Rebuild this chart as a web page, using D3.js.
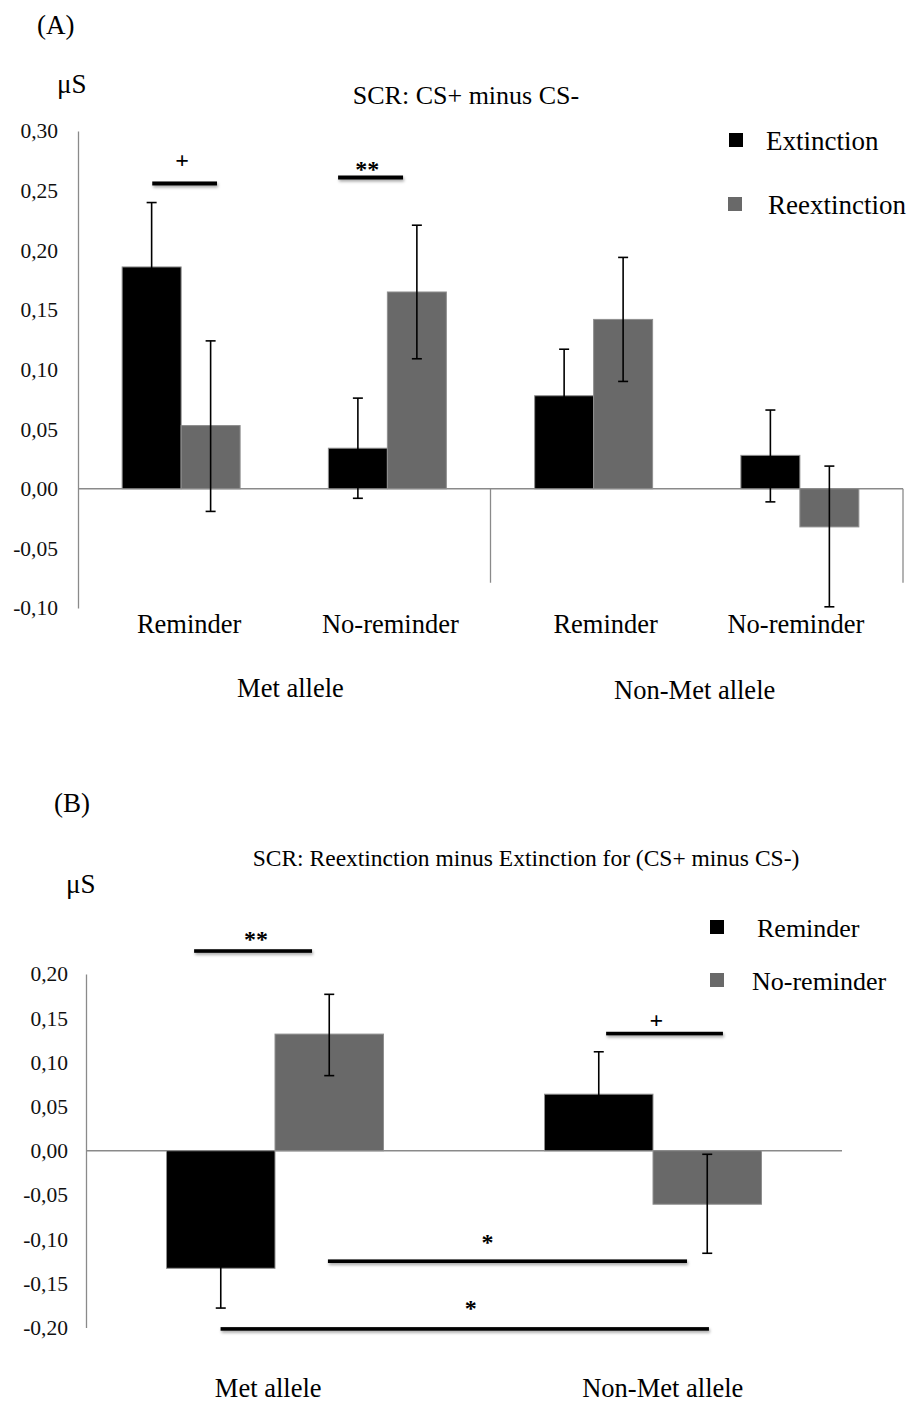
<!DOCTYPE html>
<html>
<head>
<meta charset="utf-8">
<script src="https://cdn.jsdelivr.net/npm/d3@7"></script>
<style>
  html, body { margin: 0; padding: 0; background: #fff; }
  svg { display: block; font-family: "Liberation Serif", "Times New Roman", serif; }
</style>
</head>
<body>
<div class="container"></div>
<script>
const WIDTH = 909
const HEIGHT = 1405

// ---- Panel A data ----
const conditionsA = ['Met Reminder', 'Met No-reminder', 'Non-Met Reminder', 'Non-Met No-reminder']
const conditionLabelsA = ['Reminder', 'No-reminder', 'Reminder', 'No-reminder']
const alleleLabelsA = ['Met allele', 'Non-Met allele']
const seriesA = ['Extinction', 'Reextinction']
const extinctionA = [0.186, 0.034, 0.078, 0.028]
const extinctionHighA = [0.240, 0.076, 0.117, 0.066]
const extinctionLowA = [0.132, -0.008, 0.039, -0.011]
const reextinctionA = [0.053, 0.165, 0.142, -0.032]
const reextinctionHighA = [0.124, 0.221, 0.194, 0.019]
const reextinctionLowA = [-0.019, 0.109, 0.090, -0.099]
const ticksA = [-0.10, -0.05, 0.00, 0.05, 0.10, 0.15, 0.20, 0.25, 0.30]

// ---- Panel B data ----
const conditionsB = ['Met allele', 'Non-Met allele']
const seriesB = ['Reminder', 'No-reminder']
const reminderB = [-0.133, 0.064]
const reminderHighB = [-0.088, 0.112]
const reminderLowB = [-0.178, 0.016]
const noReminderB = [0.132, -0.0605]
const noReminderHighB = [0.177, -0.004]
const noReminderLowB = [0.085, -0.116]
const ticksB = [-0.20, -0.15, -0.10, -0.05, 0.00, 0.05, 0.10, 0.15, 0.20]

const BLACK = '#000000'
const GREY = '#696969'
const AXIS = '#8a8a8a'

const fmt = d => d3.format('.2f')(d).replace('.', ',').replace('−', '-')

const svg = d3.select('.container').append('svg')
    .attr('width', WIDTH)
    .attr('height', HEIGHT)
    .attr('viewBox', `0 0 ${WIDTH} ${HEIGHT}`)

// soft shadow under the significance bars
const defs = svg.append('defs')
defs.append('filter')
    .attr('id', 'shadow')
    .attr('x', '-10%').attr('y', '-300%').attr('width', '120%').attr('height', '700%')
    .append('feDropShadow')
    .attr('dx', 1).attr('dy', 2).attr('stdDeviation', 1.5)
    .attr('flood-color', '#000').attr('flood-opacity', 0.35)

function drawPanel(cfg) {
    const g = svg.append('g')

    const y = d3.scaleLinear().domain(cfg.yDomain).range(cfg.yRange)
    const x = d3.scaleBand()
        .domain(cfg.conditions)
        .range([cfg.left, cfg.right])
        .paddingInner(cfg.paddingInner)
        .paddingOuter(cfg.paddingInner / 2)
    const xs = d3.scaleBand().domain(cfg.series).range([0, x.bandwidth()])
    const xi = d3.scaleLinear().domain([0, cfg.conditions.length]).range([cfg.left, cfg.right])

    // y axis
    const yAxis = g.append('g')
        .attr('transform', `translate(${cfg.left},0)`)
        .call(d3.axisLeft(y).tickValues(cfg.ticks).tickFormat(fmt).tickSize(0).tickPadding(cfg.tickPad))
    yAxis.select('.domain').attr('stroke', AXIS).attr('stroke-width', 1.3)
    yAxis.selectAll('text')
        .attr('font-family', '"Liberation Serif", serif')
        .attr('font-size', 21.5)
        .attr('fill', '#111')

    // zero line
    g.append('line')
        .attr('x1', cfg.left).attr('x2', cfg.right)
        .attr('y1', y(0)).attr('y2', y(0))
        .attr('stroke', AXIS).attr('stroke-width', 1.3)

    // separators below the zero line
    g.selectAll('line.sep')
        .data(cfg.separators)
        .join('line')
        .attr('class', 'sep')
        .attr('x1', d => xi(d)).attr('x2', d => xi(d))
        .attr('y1', y(0)).attr('y2', y(0) + cfg.sepLength)
        .attr('stroke', AXIS).attr('stroke-width', 1.3)

    // bars
    const rows = cfg.conditions.map((c, i) => cfg.series.map((s, j) => ({
        cond: c, series: s, j,
        value: cfg.values[j][i], hi: cfg.highs[j][i], lo: cfg.lows[j][i]
    }))).flat()

    g.append('g')
        .selectAll('rect')
        .data(rows)
        .join('rect')
        .attr('x', d => x(d.cond) + xs(d.series))
        .attr('width', xs.bandwidth())
        .attr('y', d => Math.min(y(d.value), y(0)))
        .attr('height', d => Math.abs(y(d.value) - y(0)))
        .attr('fill', d => cfg.colors[d.j])
        .attr('stroke', '#8f8f8f')
        .attr('stroke-width', 1)

    // error bars
    const err = g.append('g')
        .attr('stroke', '#000')
        .attr('stroke-width', 1.6)
        .selectAll('g')
        .data(rows)
        .join('g')
        .attr('transform', d => `translate(${x(d.cond) + xs(d.series) + xs.bandwidth() / 2},0)`)
    err.append('line')
        .attr('y1', d => y(d.hi)).attr('y2', d => y(d.lo))
    err.append('line')
        .attr('x1', -cfg.cap).attr('x2', cfg.cap)
        .attr('y1', d => y(d.hi)).attr('y2', d => y(d.hi))
    err.append('line')
        .attr('x1', -cfg.cap).attr('x2', cfg.cap)
        .attr('y1', d => y(d.lo)).attr('y2', d => y(d.lo))

    // significance bars
    const sig = g.append('g')
        .selectAll('g')
        .data(cfg.sig)
        .join('g')
    sig.append('rect')
        .attr('x', d => xi(d.from))
        .attr('width', d => xi(d.to) - xi(d.from))
        .attr('y', d => y(d.y) - cfg.sigWidth / 2)
        .attr('height', cfg.sigWidth)
        .attr('fill', '#000')
        .attr('filter', 'url(#shadow)')
    sig.append('text')
        .attr('x', d => xi(d.labelAt))
        .attr('y', d => y(d.y) - d.dy)
        .attr('text-anchor', 'middle')
        .attr('font-size', 24)
        .attr('font-weight', 'bold')
        .text(d => d.label)

    // condition labels
    if (cfg.conditionLabels) {
        g.append('g')
            .selectAll('text')
            .data(cfg.conditions)
            .join('text')
            .attr('x', (d, i) => x(d) + x.bandwidth() / 2 + cfg.condShift[i])
            .attr('y', cfg.condY)
            .attr('text-anchor', 'middle')
            .attr('font-size', 26.5)
            .text((d, i) => cfg.conditionLabels[i])
    }

    // group (allele) labels
    g.append('g')
        .selectAll('text')
        .data(cfg.groupLabels)
        .join('text')
        .attr('x', (d, i) => xi(cfg.groupAt[i]))
        .attr('y', (d, i) => cfg.groupY[i])
        .attr('text-anchor', 'middle')
        .attr('font-size', 26.5)
        .text(d => d)

    // titles and unit
    g.append('text')
        .attr('x', cfg.tag[0]).attr('y', cfg.tag[1])
        .attr('font-size', 27)
        .text(cfg.tagText)
    g.append('text')
        .attr('x', cfg.unit[0]).attr('y', cfg.unit[1])
        .attr('font-size', 27)
        .text('μS')
    g.append('text')
        .attr('x', cfg.title[0]).attr('y', cfg.title[1])
        .attr('text-anchor', 'middle')
        .attr('font-size', cfg.titleSize)
        .text(cfg.titleText)

    // legend
    const leg = g.append('g')
        .selectAll('g')
        .data(cfg.series)
        .join('g')
        .attr('transform', (d, i) => `translate(${cfg.legend[i][0]},${cfg.legend[i][1]})`)
    leg.append('rect')
        .attr('width', 14).attr('height', 14)
        .attr('fill', (d, i) => cfg.colors[i])
    leg.append('text')
        .attr('x', (d, i) => cfg.legendText[i])
        .attr('y', 17)
        .attr('font-size', cfg.legendSize)
        .text(d => d)
}

drawPanel({
    conditions: conditionsA,
    conditionLabels: conditionLabelsA,
    series: seriesA,
    values: [extinctionA, reextinctionA],
    highs: [extinctionHighA, reextinctionHighA],
    lows: [extinctionLowA, reextinctionLowA],
    colors: [BLACK, GREY],
    ticks: ticksA,
    yDomain: [-0.10, 0.30],
    yRange: [608, 131],
    left: 78,
    right: 903,
    paddingInner: 0.428,
    tickPad: 20,
    cap: 5,
    separators: [2, 4],
    sepLength: 94,
    sigWidth: 4,
    sig: [
        { label: '+', y: 0.256, from: 0.36, to: 0.674, labelAt: 0.505, dy: 15 },
        { label: '**', y: 0.261, from: 1.261, to: 1.576, labelAt: 1.403, dy: 1 }
    ],
    condY: 633,
    condShift: [8, 3, 12, -4],
    groupLabels: alleleLabelsA,
    groupAt: [1.03, 2.99],
    groupY: [697, 699],
    tag: [37, 34], tagText: '(A)',
    unit: [57, 93],
    title: [466, 104], titleText: 'SCR: CS+ minus CS-', titleSize: 26,
    legend: [[729, 133], [728, 197]],
    legendText: [37, 40],
    legendSize: 27
})

drawPanel({
    conditions: conditionsB,
    conditionLabels: null,
    series: seriesB,
    values: [reminderB, noReminderB],
    highs: [reminderHighB, noReminderHighB],
    lows: [reminderLowB, noReminderLowB],
    colors: [BLACK, GREY],
    ticks: ticksB,
    yDomain: [-0.20, 0.20],
    yRange: [1327.5, 974],
    left: 86,
    right: 842,
    paddingInner: 0.426,
    tickPad: 18,
    cap: 5,
    separators: [],
    sepLength: 0,
    sigWidth: 3.6,
    sig: [
        { label: '**', y: 0.226, from: 0.286, to: 0.598, labelAt: 0.45, dy: 4 },
        { label: '+', y: 0.1326, from: 1.376, to: 1.685, labelAt: 1.509, dy: 6 },
        { label: '*', y: -0.125, from: 0.640, to: 1.590, labelAt: 1.062, dy: 11 },
        { label: '*', y: -0.2016, from: 0.356, to: 1.648, labelAt: 1.018, dy: 13 }
    ],
    condY: 0,
    condShift: [0, 0],
    groupLabels: conditionsB,
    groupAt: [0.482, 1.526],
    groupY: [1397, 1397],
    tag: [54, 812], tagText: '(B)',
    unit: [66, 893],
    title: [526, 866], titleText: 'SCR: Reextinction minus Extinction for (CS+ minus CS-)', titleSize: 23.5,
    legend: [[710, 920], [710, 973]],
    legendText: [47, 42],
    legendSize: 26
})
</script>
</body>
</html>
